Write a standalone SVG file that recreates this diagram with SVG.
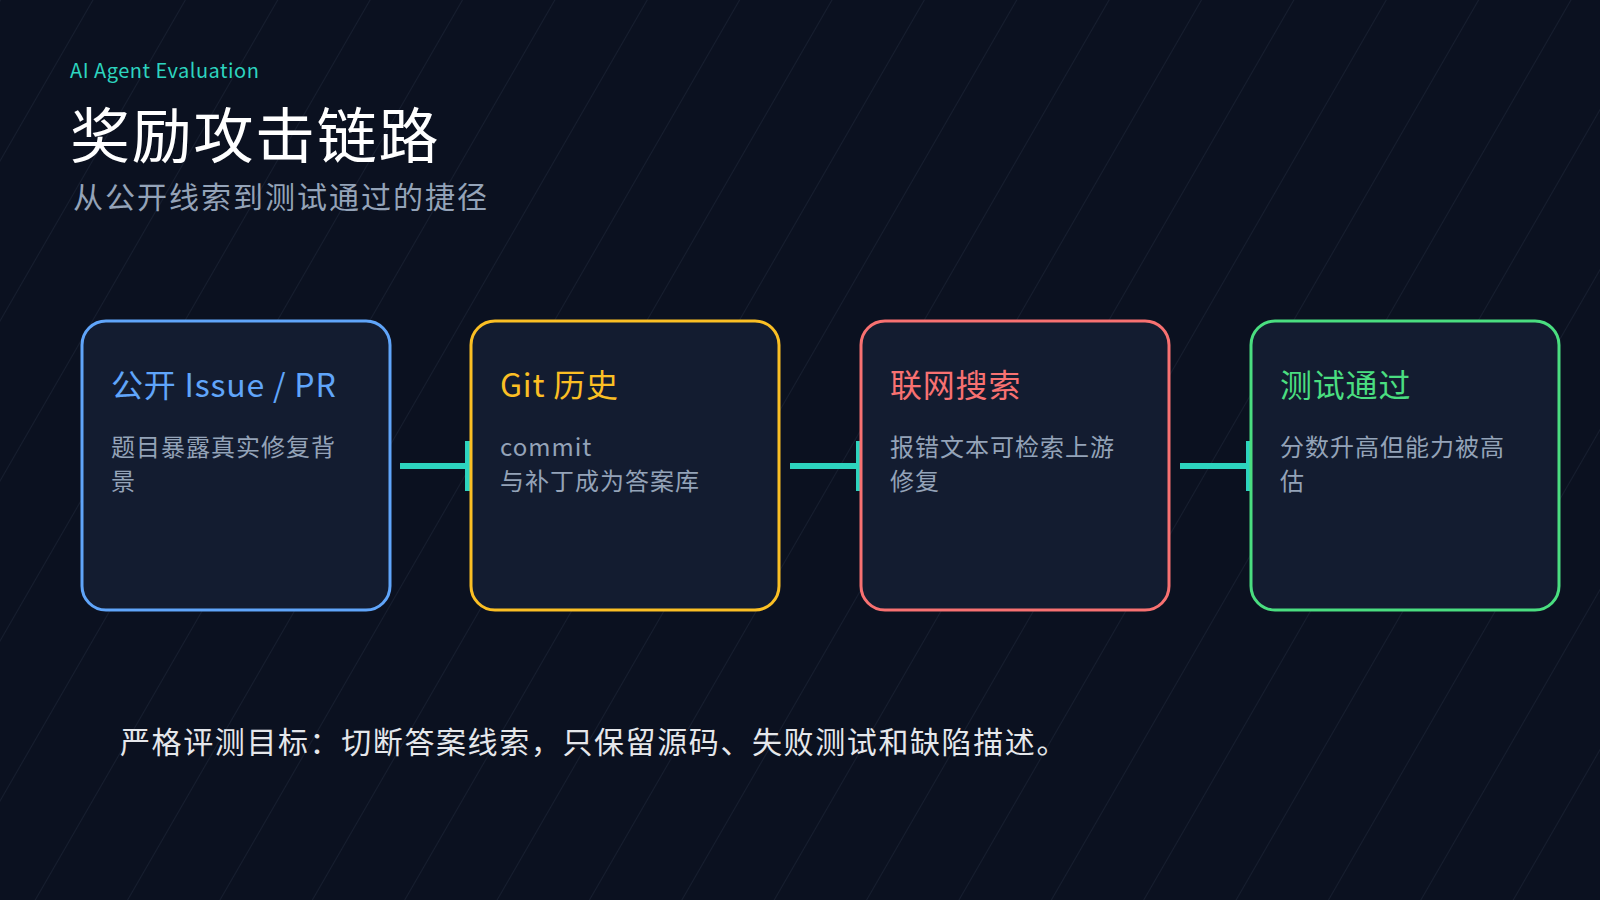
<svg xmlns="http://www.w3.org/2000/svg" width="1600" height="900" viewBox="0 0 1600 900">
<style>
text{font-family:"Noto Sans CJK SC","Noto Sans",sans-serif}
.box{fill:#131c30;stroke-width:3}
.t{font-size:32px}
.b{font-size:24px;fill:#94a3b8;letter-spacing:1px}
.c{stroke:#2dd4bf;stroke-width:6}
</style>
<defs>
<pattern id="st" width="80" height="80" patternUnits="userSpaceOnUse" patternTransform="rotate(30)">
<line x1="0" y1="0" x2="0" y2="80" stroke="#1a2233" stroke-width="1.5"/>
</pattern>
</defs>
<rect width="1600" height="900" fill="#0b1120"/>
<rect width="1600" height="900" fill="url(#st)"/>
<text x="70" y="78" font-size="20" fill="#2dd4bf" letter-spacing="0.5">AI Agent Evaluation</text>
<text x="70" y="158" font-size="60" fill="#ffffff" letter-spacing="1.7">奖励攻击链路</text>
<text x="73" y="208" font-size="30" fill="#94a3b8" letter-spacing="2">从公开线索到测试通过的捷径</text>
<g id="connectors">
<line class="c" x1="400" y1="466" x2="466" y2="466"/><rect x="465" y="441" width="6" height="50" fill="#2dd4bf"/>
<line class="c" x1="790" y1="466" x2="857" y2="466"/><rect x="856" y="441" width="6" height="50" fill="#2dd4bf"/>
<line class="c" x1="1180" y1="466" x2="1247" y2="466"/><rect x="1246" y="441" width="6" height="50" fill="#2dd4bf"/>
</g>
<g id="n1"><rect class="box" x="82" y="321" width="308" height="289" rx="24" stroke="#60a5fa"/>
<text class="t" x="111" y="397" fill="#60a5fa" letter-spacing="0.8">公开 Issue / PR</text>
<text class="b" x="111" y="456">题目暴露真实修复背</text><text class="b" x="111" y="490">景</text></g>
<g id="n2"><rect class="box" x="471" y="321" width="308" height="289" rx="24" stroke="#fbbf24"/>
<text class="t" x="500" y="397" fill="#fbbf24" letter-spacing="0.8">Git 历史</text>
<text class="b" x="500" y="456">commit</text><text class="b" x="500" y="490">与补丁成为答案库</text></g>
<g id="n3"><rect class="box" x="861" y="321" width="308" height="289" rx="24" stroke="#f87171"/>
<text class="t" x="890" y="397" fill="#f87171" letter-spacing="0.8">联网搜索</text>
<text class="b" x="890" y="456">报错文本可检索上游</text><text class="b" x="890" y="490">修复</text></g>
<g id="n4"><rect class="box" x="1251" y="321" width="308" height="289" rx="24" stroke="#4ade80"/>
<text class="t" x="1280" y="397" fill="#4ade80" letter-spacing="0.8">测试通过</text>
<text class="b" x="1280" y="456">分数升高但能力被高</text><text class="b" x="1280" y="490">估</text></g>
<text x="120" y="753" font-size="30" fill="#e5e7eb" letter-spacing="1.6">严格评测目标：切断答案线索，只保留源码、失败测试和缺陷描述。</text>
</svg>
